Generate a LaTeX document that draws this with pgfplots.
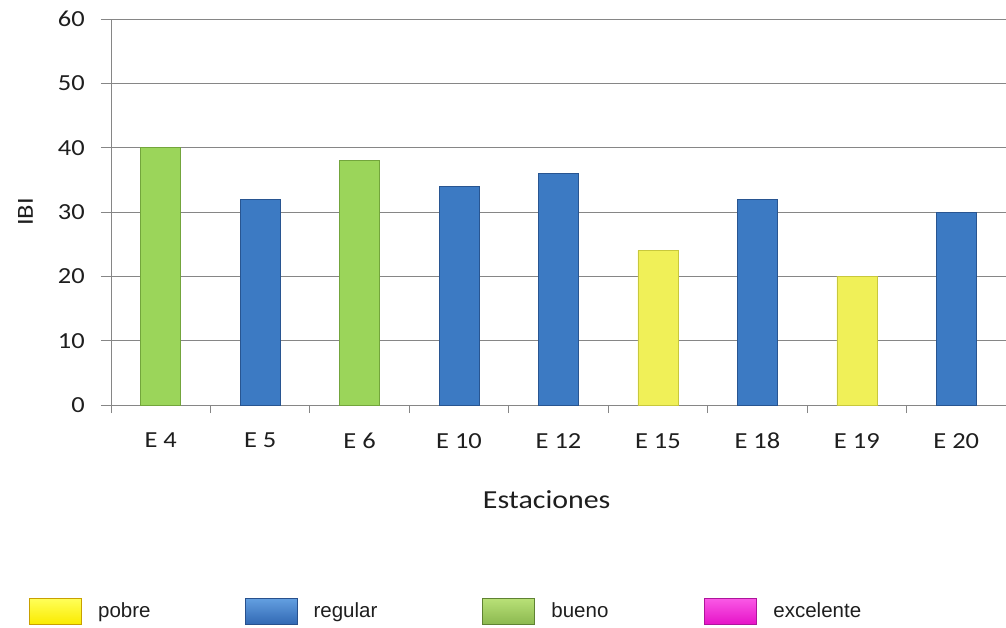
\documentclass[border=0pt]{standalone}
\usepackage{fontspec}
\usepackage{pgfplots}
\pgfplotsset{compat=1.18}
\newfontfamily\axfont[FakeStretch=1.15]{Carlito}
\newfontfamily\legfont{Liberation Sans}
\definecolor{gridgray}{RGB}{134,134,134}
\definecolor{txt}{RGB}{30,30,30}
\definecolor{yelBody}{RGB}{240,240,88}
\definecolor{yelEdge}{RGB}{200,200,60}
\definecolor{bluBody}{RGB}{60,122,195}
\definecolor{bluEdge}{RGB}{40,85,145}
\definecolor{grnBody}{RGB}{155,213,90}
\definecolor{grnEdge}{RGB}{115,165,60}
\begin{document}
\begin{tikzpicture}
\useasboundingbox (-111bp,-223bp) rectangle (895bp,405bp);
\begin{axis}[
  at={(0,0)}, anchor=south west,
  scale only axis, width=895bp, height=386bp,
  xmin=-0.5, xmax=8.5, ymin=0, ymax=60,
  ybar, bar width=40bp,
  axis x line*=bottom, axis y line*=left,
  axis line style={-, gridgray, line width=0.9bp},
  ytick={0,10,...,60},
  ymajorgrids, grid style={gridgray, line width=0.9bp},
  xtick={0,...,8},
  xticklabels={E 4,E 5,E 6,E 10,E 12,E 15,E 18,E 19,E 20},
  minor xtick={-0.5,0.5,...,8.5},
  tick align=outside, major tick length=10bp, minor tick length=8bp,
  tick style={gridgray, line width=0.9bp},
  major x tick style={draw=none},
  /pgf/number format/assume math mode=true,
  ticklabel style={font=\axfont\fontsize{23bp}{27bp}\selectfont, text=txt},
  yticklabel style={inner sep=0pt, xshift=-16bp},
  xticklabel style={inner sep=0pt, anchor=north, yshift=-18bp},
  xlabel={Estaciones},
  xlabel style={at={(axis description cs:0.4868,-0.2694)}, anchor=base, inner sep=0pt,
    font=\axfont\fontsize{26bp}{30bp}\selectfont, text=txt},
  ylabel={IBI},
  ylabel style={at={(axis description cs:-0.0872,0.5)}, anchor=south, inner sep=0pt,
    font=\axfont\fontsize{23bp}{27bp}\selectfont, text=txt},
  legend columns=4,
  legend style={at={(axis description cs:0,0)}, anchor=west, xshift=-82bp, yshift=-206bp,
    draw=none, fill=none, inner sep=0pt,
    font=\legfont\fontsize{20.5bp}{24bp}\selectfont, text=txt,
    nodes={inner sep=0pt},
    /tikz/every odd column/.append style={column sep=16bp},
    /tikz/column 2/.append style={column sep=94bp},
    /tikz/column 4/.append style={column sep=105bp},
    /tikz/column 6/.append style={column sep=96bp}},
]
\addplot[bar shift=0pt, draw=yelEdge, line width=0.6bp, fill=yelBody,
  legend image code/.code={\path[draw={rgb,255:red,200;green,160;blue,0}, line width=1bp,
     top color={rgb,255:red,255;green,255;blue,90}, bottom color={rgb,255:red,250;green,235;blue,0}]
     (0bp,-13bp) rectangle (52bp,13bp);}]
  coordinates {(5,24) (7,20)};
\addlegendentry{pobre}
\addplot[bar shift=0pt, draw=bluEdge, line width=0.6bp, fill=bluBody,
  legend image code/.code={\path[draw={rgb,255:red,40;green,80;blue,140}, line width=1bp,
     top color={rgb,255:red,100;green,160;blue,225}, bottom color={rgb,255:red,50;green,105;blue,180}]
     (0bp,-13bp) rectangle (52bp,13bp);}]
  coordinates {(1,32) (3,34) (4,36) (6,32) (8,30)};
\addlegendentry{regular}
\addplot[bar shift=0pt, draw=grnEdge, line width=0.6bp, fill=grnBody,
  legend image code/.code={\path[draw={rgb,255:red,95;green,130;blue,50}, line width=1bp,
     top color={rgb,255:red,185;green,225;blue,120}, bottom color={rgb,255:red,140;green,185;blue,80}]
     (0bp,-13bp) rectangle (52bp,13bp);}]
  coordinates {(0,40) (2,38)};
\addlegendentry{bueno}
\addlegendimage{legend image code/.code={\path[draw={rgb,255:red,175;green,20;blue,155}, line width=1bp,
     top color={rgb,255:red,250;green,90;blue,230}, bottom color={rgb,255:red,230;green,20;blue,200}]
     (0bp,-13bp) rectangle (52bp,13bp);}}
\addlegendentry{excelente}
\end{axis}
\end{tikzpicture}
\end{document}
